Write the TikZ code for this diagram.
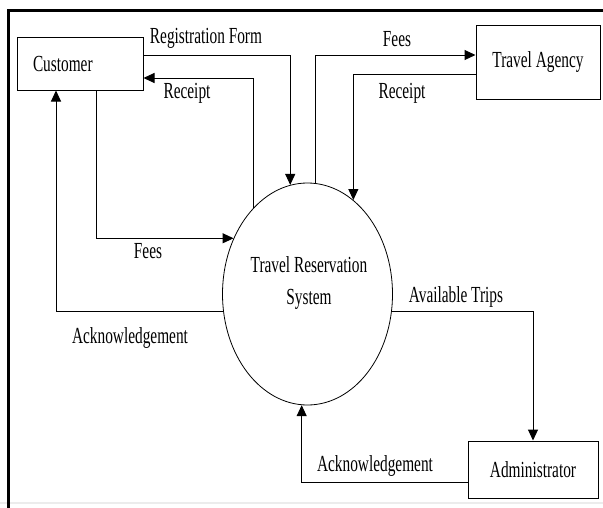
\documentclass[tikz,border=0pt]{standalone}
\usepackage{fontspec}
\setmainfont[FakeStretch=0.667]{Liberation Serif}
\usetikzlibrary{arrows.meta,shapes.geometric}

\begin{document}
\begin{tikzpicture}[x=1pt,y=-1pt,
  every node/.style={font=\fontsize{23}{32}\selectfont, inner sep=0pt},
  entity/.style={draw, line width=1pt, rectangle},
  process/.style={draw, line width=0.8pt, ellipse},
  flow/.style={draw, line width=1pt, -{Triangle[length=11pt,width=10pt]}},
  lbl/.style={anchor=base},
  frame/.style={line width=3pt, line cap=rect}]

  % canvas
  \useasboundingbox (0,0) rectangle (603,507);
  \draw[gray!15, line width=1.2pt] (0,503) -- (603,503);
  \draw[frame] (603,10) -- (8,10) -- (8,507);

  % external entities
  \node[entity, minimum width=126pt, minimum height=53pt,
        text width=94pt, inner xsep=16pt, align=left] (cust) at (80,63.5) {Customer};
  \node[entity, minimum width=124pt, minimum height=74pt] (agency) at (538,62) {Travel Agency};
  \node[entity, minimum width=130pt, minimum height=57pt] (admin) at (533,469.5) {Administrator};

  % central process
  \node[process, minimum width=170pt, minimum height=222pt] (sys) at (307.5,294) {};
  \node[align=center, anchor=base] (systext) at (309,304) {Travel Reservation\\System};

  % data flows
  \draw[flow] ([yshift=8.5pt]cust.east) -| (sys.99.7);
  \draw[flow] (sys.122.6) |- ([yshift=-14.5pt]cust.east);
  \draw[flow] ([xshift=16pt]cust.south) |- (sys.143.3);
  \draw[flow] (sys.86.6) |- ([yshift=7pt]agency.west);
  \draw[flow] ([yshift=-12pt]agency.west) -| (sys.64.1);
  \draw[flow] (sys.192.1) -| ([xshift=-24pt]cust.south);
  \draw[flow] (sys.-12.1) -| (admin.north);
  \draw[flow] ([yshift=-12.5pt]admin.west) -| (sys.267.2);

  % flow labels
  \node[lbl] (lregform) at (206,43.5) {Registration Form};
  \node[lbl] (lreceipt1) at (187,98) {Receipt};
  \node[lbl] (lfees1) at (148,258) {Fees};
  \node[lbl] (lfees2) at (397,46) {Fees};
  \node[lbl] (lreceipt2) at (402,98) {Receipt};
  \node[lbl] (lack1) at (130,343) {Acknowledgement};
  \node[lbl] (ltrips) at (456,302) {Available Trips};
  \node[lbl] (lack2) at (375,471) {Acknowledgement};
\end{tikzpicture}
\end{document}
